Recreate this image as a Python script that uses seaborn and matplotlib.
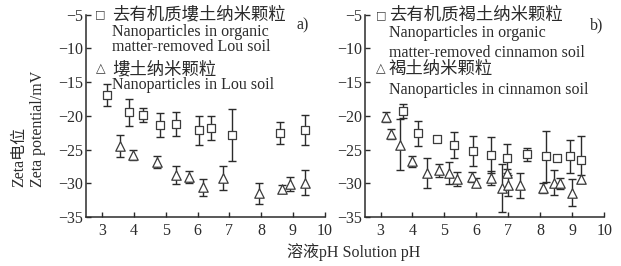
import matplotlib
matplotlib.use("Agg")
import matplotlib.pyplot as plt
import numpy as np
import pandas as pd
import seaborn as sns

# -------- data --------
# a) Lou soil
lou_om_ph = [3.14, 3.84, 4.29, 4.81, 5.31, 6.04, 6.43, 7.08, 8.58, 9.37]
lou_om_zeta = [-16.9, -19.5, -19.9, -21.4, -21.2, -22.1, -21.8, -22.9, -22.5, -22.1]
lou_om_err = [1.6, 2.0, 1.0, 1.8, 1.8, 2.15, 1.75, 3.85, 1.6, 2.2]

lou_ph = [3.56, 3.96, 4.71, 5.31, 5.72, 6.17, 6.80, 7.93, 8.65, 8.90, 9.37]
lou_zeta = [-24.5, -25.8, -26.9, -28.8, -29.1, -30.6, -29.2, -31.5, -30.8, -30.1, -29.9]
lou_err = [1.6, 0.8, 0.9, 1.35, 0.9, 1.3, 1.8, 1.5, 0.6, 1.0, 1.8]

# b) cinnamon soil
cin_om_ph = [3.69, 4.16, 4.77, 5.30, 5.88, 6.45, 6.97, 7.59, 8.17, 8.51, 8.93, 9.27]
cin_om_zeta = [-19.3, -22.6, -23.4, -24.3, -25.2, -25.8, -26.3, -25.7, -26.0, -26.2, -26.0, -26.5]
cin_om_err = [1.0, 1.8, 0.3, 1.9, 2.2, 2.6, 2.2, 1.0, 3.75, 0.3, 2.45, 3.45]

cin_ph = [3.17, 3.34, 3.60, 4.00, 4.47, 4.84, 5.15, 5.38, 5.85, 6.00,
          6.45, 6.81, 6.96, 6.98, 7.38, 8.07, 8.43, 8.62, 9.00, 9.27]
cin_zeta = [-20.2, -22.7, -24.3, -26.75, -28.5, -28.1, -28.5, -29.35, -29.05, -29.9,
            -29.2, -30.7, -28.5, -30.3, -30.3, -30.7, -29.9, -30.0, -31.4, -29.3]
cin_err = [0.7, 0.8, 3.8, 0.8, 2.25, 1.0, 1.6, 1.0, 0.8, 0.7,
           1.0, 3.5, 0.6, 1.6, 1.9, 0.7, 1.9, 0.8, 2.0, 0.6]

x_ticks = [3, 4, 5, 6, 7, 8, 9, 10]
y_ticks = [-35, -30, -25, -20, -15, -10, -5]

legend_a = ["去有机质塿土纳米颗粒", "Nanoparticles in organic", "matter-removed Lou soil",
            "塿土纳米颗粒", "Nanoparticles in Lou soil"]
legend_b = ["去有机质褐土纳米颗粒", "Nanoparticles in organic", "matter-removed cinnamon soil",
            "褐土纳米颗粒", "Nanoparticles in cinnamon soil"]

# -------- style --------
sns.set_theme(style="ticks")
FONT = ["Liberation Serif", "Noto Sans CJK SC", "DejaVu Sans"]
plt.rcParams["font.family"] = FONT
plt.rcParams["axes.unicode_minus"] = True
FS = 11.5
FS_CJK = 12.5
INK = "#2b2b2b"
MARK = "#3c3c3c"


def draw_series(ax, ph, zeta, err, marker, size):
    df = pd.DataFrame({"ph": ph, "zeta": zeta, "err": err})
    ax.errorbar(df["ph"], df["zeta"], yerr=df["err"], fmt="none",
                ecolor=INK, elinewidth=1.0, capsize=2.8, capthick=1.0, zorder=2)
    sns.scatterplot(data=df, x="ph", y="zeta", marker=marker, s=size,
                    facecolor="white", edgecolor=MARK, linewidth=0.9,
                    ax=ax, zorder=3, legend=False)


def style_axis(ax):
    ax.set_xlim(2.5, 10)
    ax.set_ylim(-35, -5)
    ax.set_xticks(x_ticks)
    ax.set_yticks(y_ticks)
    ax.set_xlabel("")
    ax.set_ylabel("")
    ax.tick_params(direction="in", length=3.5, width=1.0, color=INK,
                   labelsize=FS, labelcolor=INK)
    ax.tick_params(axis="x", pad=4)
    ax.tick_params(axis="y", pad=2)
    for s in ["left", "bottom"]:
        ax.spines[s].set_linewidth(1.1)
        ax.spines[s].set_color(INK)
    sns.despine(ax=ax)


fig = plt.figure(figsize=(6.21, 2.66), dpi=100)
ax1 = fig.add_axes([0.139, 0.184, 0.384, 0.761])
ax2 = fig.add_axes([0.587, 0.184, 0.386, 0.761])

draw_series(ax1, lou_om_ph, lou_om_zeta, lou_om_err, "s", 28)
draw_series(ax1, lou_ph, lou_zeta, lou_err, "^", 46)
draw_series(ax2, cin_om_ph, cin_om_zeta, cin_om_err, "s", 28)
draw_series(ax2, cin_ph, cin_zeta, cin_err, "^", 46)
style_axis(ax1)
style_axis(ax2)

# -------- legends written as text --------
def legend_text(ax, lines, sym_x, txt_x, ys, tri_txt_x):
    tr = ax.transAxes
    ax.text(sym_x, ys[0], "□", transform=tr, ha="center", va="center",
            fontsize=8, color=MARK, family=["DejaVu Sans"])
    ax.text(sym_x, ys[3], "△", transform=tr, ha="center", va="center",
            fontsize=9, color=MARK, family=["DejaVu Sans"])
    for i, (line, y) in enumerate(zip(lines, ys)):
        x = tri_txt_x if i == 3 else txt_x
        cjk = i in (0, 3)
        ax.text(x, y, line, transform=tr, ha="left", va="center",
                fontsize=FS_CJK if cjk else FS, color=INK,
                family=["Noto Sans CJK SC"] if cjk else FONT,
                fontweight="light" if cjk else "normal", zorder=5)


legend_text(ax1, legend_a, 0.060, 0.108, [1.0, 0.914, 0.840, 0.731, 0.652], 0.107)
legend_text(ax2, legend_b, 0.068, 0.101, [0.998, 0.909, 0.810, 0.731, 0.630], 0.099)

ax1.text(0.881, 0.948, "a)", transform=ax1.transAxes, ha="left", va="center",
         fontsize=FS, color=INK)
ax2.text(0.941, 0.948, "b)", transform=ax2.transAxes, ha="left", va="center",
         fontsize=FS, color=INK)

fig.text(0.046, 0.515, "Zeta电位\nZeta potential/mV", rotation=90, ha="center",
         va="center", multialignment="left", linespacing=1.3, fontsize=FS, color=INK)
fig.text(0.569, 0.054, "溶液pH Solution pH", ha="center", va="center",
         fontsize=FS, color=INK)

fig.savefig("out.png", dpi=100)
